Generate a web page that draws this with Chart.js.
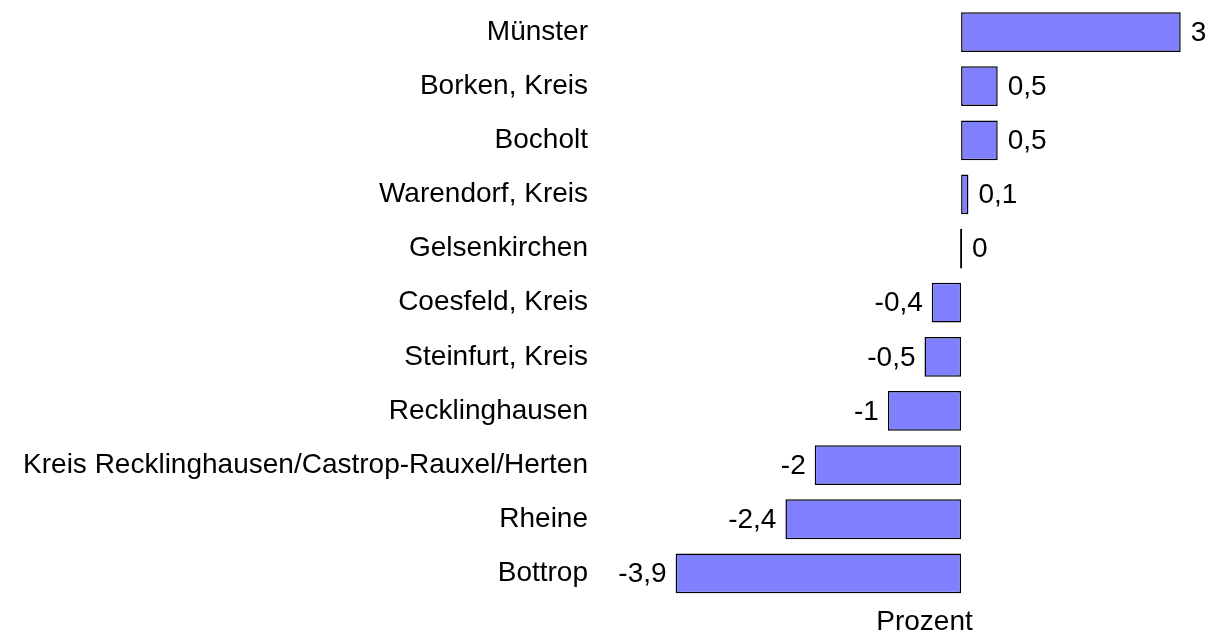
<!DOCTYPE html>
<html>
<head>
<meta charset="utf-8">
<script src="https://cdn.jsdelivr.net/npm/chart.js@4/dist/chart.umd.min.js"></script>
<style>
  html, body { margin: 0; padding: 0; background: #fff; }
  #wrap { width: 1216px; height: 635px; }
</style>
</head>
<body>
<div id="wrap"><canvas id="chart"></canvas></div>
<script>
// ── Data ──
const regions = [
  "Münster", "Borken, Kreis", "Bocholt", "Warendorf, Kreis", "Gelsenkirchen",
  "Coesfeld, Kreis", "Steinfurt, Kreis", "Recklinghausen",
  "Kreis Recklinghausen/Castrop-Rauxel/Herten", "Rheine", "Bottrop"
];
const changes = [3, 0.5, 0.5, 0.1, 0, -0.4, -0.5, -1, -2, -2.4, -3.9];
const axisTitle = "Prozent";

const FONT = "Liberation Sans, Arial, sans-serif";
const fmt = v => String(v).replace(".", ",");

// ── Value labels next to bar ends ──
const valueLabels = {
  id: "valueLabels",
  afterDatasetsDraw(chart) {
    const ctx = chart.ctx;
    const meta = chart.getDatasetMeta(0);
    ctx.save();
    ctx.font = "28px " + FONT;
    ctx.fillStyle = "#000";
    ctx.textBaseline = "middle";
    meta.data.forEach((bar, i) => {
      const v = changes[i];
      if (v < 0) {
        ctx.textAlign = "right";
        ctx.fillText(fmt(v), Math.min(bar.x, bar.base) - 9, bar.y + 1);
      } else {
        ctx.textAlign = "left";
        ctx.fillText(fmt(v), Math.max(bar.x, bar.base) + 10, bar.y + 1);
      }
    });
    ctx.restore();
  }
};

new Chart(document.getElementById("chart"), {
  type: "bar",
  data: {
    labels: regions,
    datasets: [{
      data: changes,
      backgroundColor: "#8080ff",
      borderColor: "#000",
      borderWidth: 1.5,
      borderSkipped: false,
      minBarLength: 2,
      barPercentage: 0.92,
      categoryPercentage: 0.8
    }]
  },
  options: {
    indexAxis: "y",
    responsive: true, maintainAspectRatio: false, animation: false,
    layout: { padding: { top: 5, right: 17, bottom: -4, left: 0 } },
    plugins: { legend: { display: false }, tooltip: { enabled: false } },
    scales: {
      x: {
        min: -4.25, max: 3.25,
        grid: { display: false, drawTicks: false },
        border: { display: false },
        ticks: { display: false },
        title: {
          display: true, text: axisTitle, color: "#000",
          font: { family: FONT, size: 28 }, padding: { top: 5, bottom: 0 }
        }
      },
      y: {
        grid: { display: false, drawTicks: false },
        border: { display: false },
        afterFit(scale) {
          scale.width = 650;
          scale.paddingTop = 0;
          scale.paddingBottom = 0;
        },
        ticks: {
          color: "#000", padding: 62,
          font: { family: FONT, size: 28 }
        }
      }
    }
  },
  plugins: [valueLabels]
});
</script>
</body>
</html>
